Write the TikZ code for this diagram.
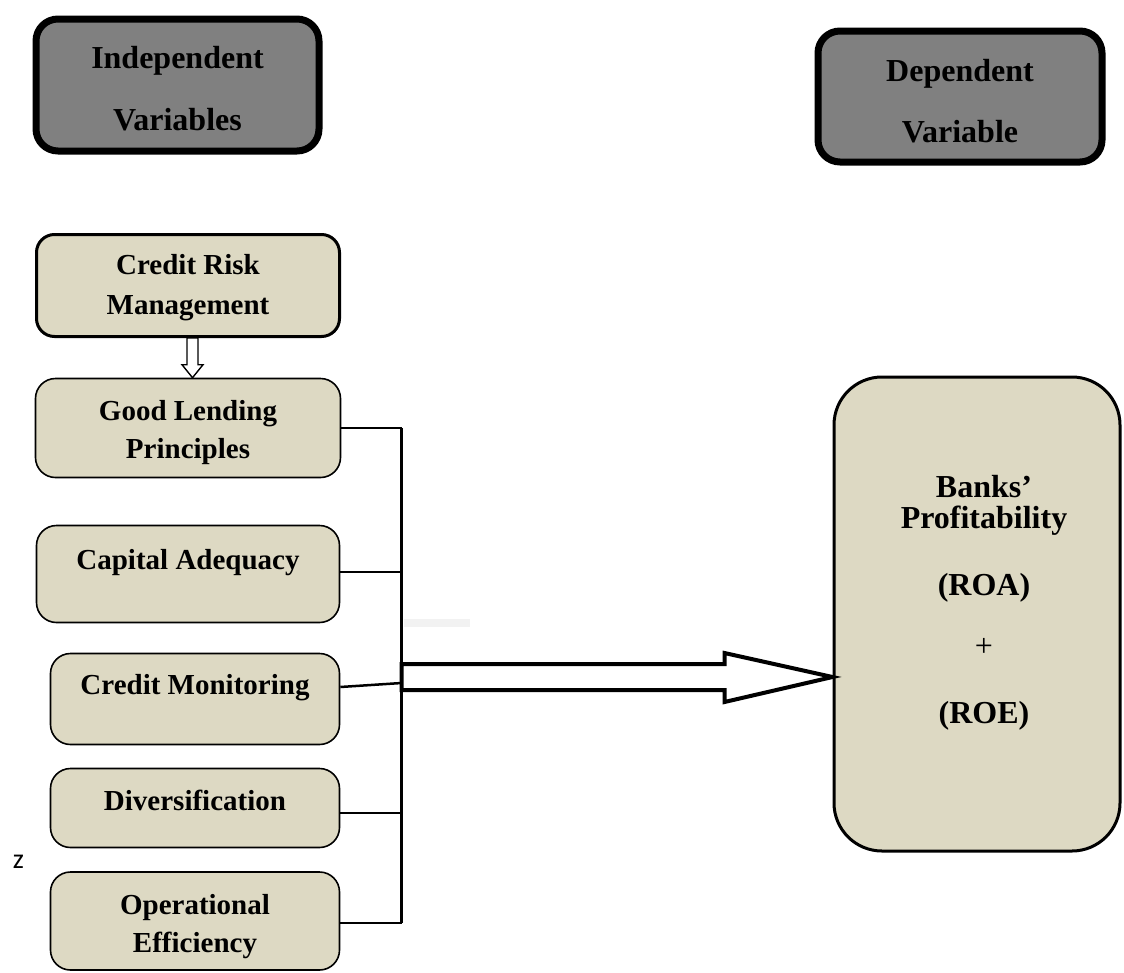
\documentclass[tikz,border=0pt]{standalone}
\usepackage{fontspec}
\setmainfont{Liberation Serif}
\newfontfamily\zfont{Carlito}
\usetikzlibrary{calc}
\definecolor{boxtan}{RGB}{221,217,195}
\definecolor{hdrgray}{RGB}{128,128,128}
\definecolor{faintgray}{RGB}{242,242,242}
\begin{document}
\begin{tikzpicture}[x=1pt,y=-1pt,
  box/.style={draw=black, fill=boxtan, line width=1.6pt, rounded corners=20pt, inner sep=0pt},
  crmbox/.style={box, line width=3pt, rounded corners=18pt},
  bigbox/.style={box, line width=3pt, rounded corners=48pt},
  hdrbox/.style={draw=black, fill=hdrgray, line width=7pt, rounded corners=22pt, inner sep=0pt},
  lbl/.style={font=\fontsize{29}{35}\selectfont\bfseries, anchor=base, inner sep=0pt},
  hlbl/.style={font=\fontsize{32}{38}\selectfont\bfseries, anchor=base, inner sep=0pt},
  conn/.style={line width=2.5pt},
  bigarrow/.style={draw=black, fill=white, line width=4pt},
  smallarrow/.style={draw=black, fill=white, line width=1.4pt}]
\useasboundingbox (0,0) rectangle (1124,972);

% header boxes
\node[hdrbox, minimum width=283pt, minimum height=132pt] (ind) at (177.5,85) {};
\node[hdrbox, minimum width=284pt, minimum height=131pt] (dep) at (960,96.5) {};
\node[hlbl] (ind1) at (177.5,68) {Independent};
\node[hlbl] (ind2) at (177.5,130) {Variables};
\node[hlbl] (dep1) at (960,81) {Dependent};
\node[hlbl] (dep2) at (960,142) {Variable};

% faint mark
\fill[faintgray] (404,619) rectangle (470,627);

% independent variable boxes
\node[crmbox, minimum width=303pt, minimum height=102pt] (crm) at (188,285.5) {};
\node[box, minimum width=305pt, minimum height=99pt] (gl) at (188,428) {};
\node[box, minimum width=303pt, minimum height=97pt] (ca) at (188,574) {};
\node[box, minimum width=289pt, minimum height=91pt] (cm) at (195,699) {};
\node[box, minimum width=289pt, minimum height=79pt] (dv) at (195,808) {};
\node[box, minimum width=289pt, minimum height=98pt] (oe) at (195,921) {};

\node[lbl] (crm1) at (188,274) {Credit Risk};
\node[lbl] (crm2) at (188,314) {Management};
\node[lbl] (gl1) at (188,420) {Good Lending};
\node[lbl] (gl2) at (188,458) {Principles};
\node[lbl] (ca1) at (188,569) {Capital Adequacy};
\node[lbl] (cm1) at (195,694) {Credit Monitoring};
\node[lbl] (dv1) at (195,810) {Diversification};
\node[lbl] (oe1) at (195,914) {Operational};
\node[lbl] (oe2) at (195,952) {Efficiency};

% dependent variable box
\node[bigbox, minimum width=286pt, minimum height=474pt] (bp) at (977,614) {};
\node[hlbl] (bp1) at (984,497) {Banks’};
\node[hlbl] (bp2) at (984,528) {Profitability};
\node[hlbl] (bp3) at (984,595) {(ROA)};
\node[hlbl, font=\fontsize{32}{38}\selectfont] (bp4) at (984,656) {+};
\node[hlbl] (bp5) at (984,723) {(ROE)};

% stray letter
\node[font=\zfont\fontsize{28}{32}\selectfont, anchor=base, inner sep=0pt] (zz) at (18.5,868) {z};

% small arrow from Credit Risk Management to Good Lending Principles
\coordinate (saTop) at ($(crm.south)+(4.5,0)$);
\coordinate (saTip) at ($(gl.north)+(4.5,0)$);
\draw[smallarrow] ($(saTop)+(-5.5,0)$) -- ($(saTip)+(-5.5,-13)$) -- ($(saTip)+(-10.5,-13)$) -- (saTip)
  -- ($(saTip)+(10.5,-13)$) -- ($(saTip)+(5.5,-13)$) -- ($(saTop)+(5.5,0)$) -- cycle;

% bus connectors
\coordinate (busT) at (401.5,428);
\coordinate (busB) at (401.5,923);
\coordinate (caE) at ([yshift=2pt]ca.east);
\coordinate (cmE) at ([yshift=12pt]cm.east);
\coordinate (cmJ) at (401.5,683);
\coordinate (dvE) at ([yshift=-5pt]dv.east);
\coordinate (oeE) at ([yshift=-2pt]oe.east);
\draw[conn] (busT) -- (busB);
\draw[conn] (gl.east) -- (gl.east -| busT);
\draw[conn] (caE) -- (caE -| busT);
\draw[conn] (cmE) -- (cmJ);
\draw[conn] (dvE) -- (dvE -| busT);
\draw[conn] (oeE) -- (oeE -| busT);

% big block arrow to Banks' Profitability
\coordinate (tail) at (401.5,677);
\coordinate (tip) at (bp.west |- tail);
\draw[bigarrow] ($(tail)+(0,-13)$) -- ($(tip)+(-108,-13)$) -- ($(tip)+(-108,-24)$) -- (tip)
  -- ($(tip)+(-108,25)$) -- ($(tip)+(-108,13)$) -- ($(tail)+(0,13)$) -- cycle;
\end{tikzpicture}
\end{document}
